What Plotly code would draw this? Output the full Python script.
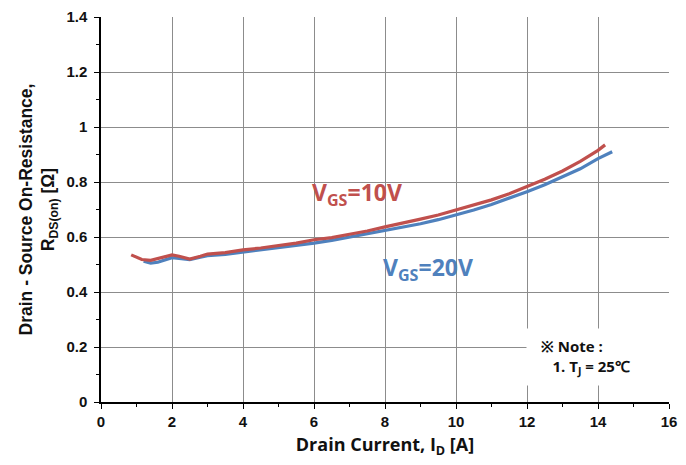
import plotly.graph_objects as go

# VGS = 10V (red)
id_10v = [0.85, 1.0, 1.15, 1.4, 1.6, 1.8, 2.0, 2.2, 2.5, 2.8, 3.0, 3.5, 4.0, 4.5, 5.0, 5.5, 6.0, 6.5, 7.0, 7.5, 8.0, 8.5, 9.0, 9.5, 10.0, 10.5, 11.0, 11.5, 12.0, 12.5, 13.0, 13.5, 14.0, 14.2]
r_10v = [0.535, 0.525, 0.518, 0.515, 0.522, 0.53, 0.535, 0.53, 0.52, 0.53, 0.538, 0.543, 0.553, 0.56, 0.568, 0.578, 0.59, 0.598, 0.61, 0.622, 0.637, 0.65, 0.665, 0.68, 0.698, 0.715, 0.735, 0.757, 0.783, 0.81, 0.84, 0.875, 0.915, 0.935]

# VGS = 20V (blue)
id_20v = [1.2, 1.4, 1.6, 1.8, 2.0, 2.2, 2.5, 2.8, 3.0, 3.5, 4.0, 4.5, 5.0, 5.5, 6.0, 6.5, 7.0, 7.5, 8.0, 8.5, 9.0, 9.5, 10.0, 10.5, 11.0, 11.5, 12.0, 12.5, 13.0, 13.5, 14.0, 14.4]
r_20v = [0.512, 0.505, 0.508, 0.518, 0.525, 0.522, 0.518, 0.527, 0.532, 0.537, 0.545, 0.552, 0.56, 0.568, 0.578, 0.588, 0.6, 0.61, 0.622, 0.635, 0.648, 0.663, 0.68, 0.698, 0.718, 0.74, 0.765, 0.79, 0.818, 0.848, 0.885, 0.91]

x_ticks = [0, 2, 4, 6, 8, 10, 12, 14, 16]
y_ticks = [0, 0.2, 0.4, 0.6, 0.8, 1.0, 1.2, 1.4]
y_tick_text = ["0", "0.2", "0.4", "0.6", "0.8", "1", "1.2", "1.4"]

RED = "#C0504D"
BLUE = "#4F81BD"

fig = go.Figure()
fig.add_trace(go.Scatter(x=id_20v, y=r_20v, mode="lines", line=dict(color=BLUE, width=3.2), showlegend=False))
fig.add_trace(go.Scatter(x=id_10v, y=r_10v, mode="lines", line=dict(color=RED, width=3.2), showlegend=False))

tick_font = dict(family="Liberation Sans", size=15, color="#111111", weight="bold")

fig.update_xaxes(
    range=[0, 16], tickvals=x_ticks, showgrid=True, gridcolor="#8c8c8c", gridwidth=1,
    showline=True, linecolor="black", linewidth=1.5, ticks="outside", ticklen=5, tickcolor="black",
    minor=dict(dtick=1, ticks="outside", ticklen=3, tickcolor="black", showgrid=False),
    tickfont=tick_font, automargin=False,
    title=dict(text="<b>Drain Current, I<sub>D</sub> [A]</b>", font=dict(family="Open Sans", size=18, color="#111111"), standoff=10),
    zeroline=False,
)
fig.update_yaxes(
    range=[0, 1.4], tickvals=y_ticks, ticktext=y_tick_text, showgrid=True, gridcolor="#8c8c8c", gridwidth=1,
    showline=True, linecolor="black", linewidth=1.5, ticks="outside", ticklen=5, tickcolor="black",
    minor=dict(dtick=0.1, ticks="outside", ticklen=3, tickcolor="black", showgrid=False),
    tickfont=tick_font, automargin=False, ticklabelstandoff=4,
    title=dict(text="<b>Drain - Source On-Resistance,<br>R<sub>DS(on)</sub> [Ω]</b>", font=dict(family="Liberation Sans", size=17.5, color="#111111"), standoff=7),
    zeroline=False,
)

fig.add_annotation(x=7.2, y=0.76, xref="x", yref="y", text="<b>V<sub>GS</sub>=10V</b>", showarrow=False,
                   font=dict(family="Open Sans", size=23, color=RED))
fig.add_annotation(x=9.2, y=0.487, xref="x", yref="y", text="<b>V<sub>GS</sub>=20V</b>", showarrow=False,
                   font=dict(family="Open Sans", size=23, color=BLUE))
fig.add_annotation(x=14.0, y=0.164, xref="x", yref="y", xanchor="center", yanchor="middle", align="left",
                   width=130, height=44,
                   text="&nbsp;&nbsp;<b>※ Note :</b><br>&nbsp;&nbsp;&nbsp;&nbsp;&nbsp;<b>1. T<sub>J</sub> = 25℃</b>", showarrow=False,
                   bgcolor="white", borderpad=6,
                   font=dict(family="Open Sans", size=15, color="#111111"))

fig.update_layout(
    width=686, height=465, margin=dict(l=101, r=17, t=17, b=63),
    plot_bgcolor="white", paper_bgcolor="white",
)
fig.write_html("out.html", config={"displayModeBar": False},
               post_script="document.body.style.margin='0';document.body.style.overflow='hidden';")
